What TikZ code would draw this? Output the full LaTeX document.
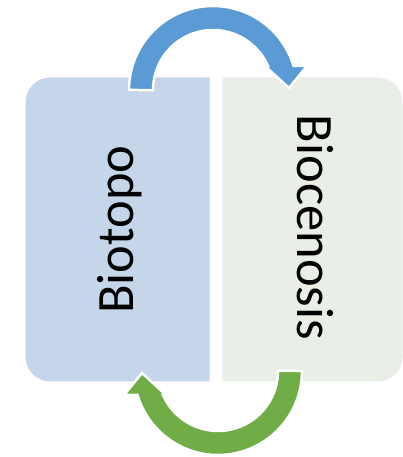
\documentclass[tikz,border=0pt]{standalone}
\usepackage{fontspec}
\setmainfont{Carlito}
\definecolor{biotopofill}{RGB}{197,213,234}
\definecolor{biocenfill}{RGB}{233,239,231}
\definecolor{arrowblue}{RGB}{91,155,213}
\definecolor{arrowgreen}{RGB}{112,173,71}
\tikzset{
  panel/.style={draw=white, line width=1pt},
  bentarrow/.style={draw=white, line width=2.5pt, line join=miter},
  label/.style={inner sep=0pt, font=\fontsize{52.5}{52.5}\selectfont, text=black}
}
\begin{document}
\begin{tikzpicture}[x=1pt, y=1pt]
\useasboundingbox[fill=white] (0,0) rectangle (403,457);
% left panel, rounded on its outer side
\path[panel, fill=biotopofill] (210,75) -- (210,380) -- (50,380)
  arc[start angle=90, end angle=180, radius=25pt] -- (25,100)
  arc[start angle=180, end angle=270, radius=25pt] -- cycle;
% right panel, rounded on its outer side
\path[panel, fill=biocenfill] (222,75) -- (222,380) -- (378,380)
  arc[start angle=90, end angle=0, radius=25pt] -- (403,100)
  arc[start angle=0, end angle=-90, radius=25pt] -- cycle;
% upper curved arrow, centre (213,367)
\path[bentarrow, fill=arrowblue] (129,367)
  arc[start angle=180, end angle=16.6, radius=84pt]
  -- (307,391) -- (289,369) -- (265,391) -- (268,391)
  arc[start angle=23.6, end angle=180, radius=60pt] -- cycle;
% lower curved arrow, centre (218,86)
\path[bentarrow, fill=arrowgreen] (302,86)
  arc[start angle=0, end angle=-163.4, radius=84pt]
  -- (124,62) -- (142,84) -- (166,62) -- (163,62)
  arc[start angle=-156.4, end angle=0, radius=60pt] -- cycle;
% labels
\node[label, rotate=90, anchor=base] (biotopo) at (133.5,227.5) {Biotopo};
\node[label, rotate=-90, anchor=base] (biocenosis) at (297.5,229.5) {Biocenosis};
\end{tikzpicture}
\end{document}
